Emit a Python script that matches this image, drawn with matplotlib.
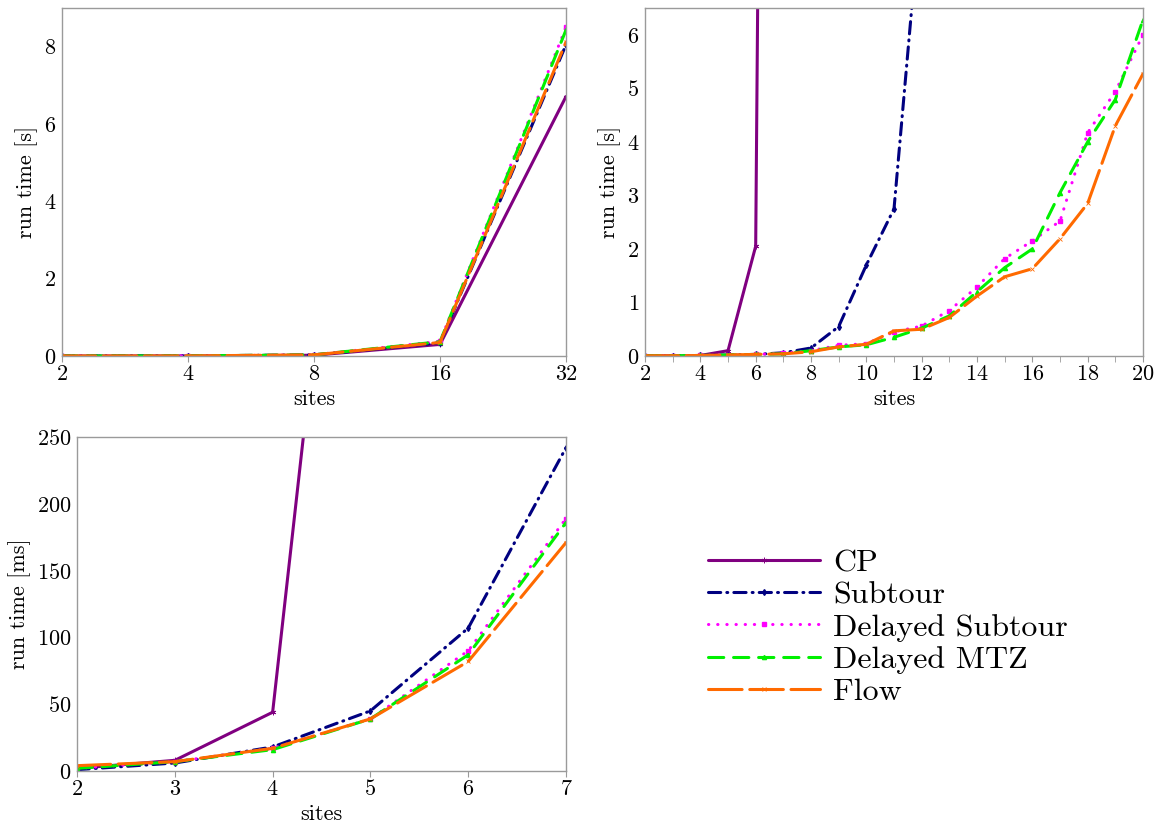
import numpy as np
import matplotlib
matplotlib.use("Agg")
import matplotlib.pyplot as plt

plt.rcParams['font.family'] = 'serif'
plt.rcParams['font.serif'] = ['cmr10']
plt.rcParams['axes.formatter.use_mathtext'] = True
plt.rcParams['mathtext.fontset'] = 'cm'

# ---- data ----
labels = ["CP", "Subtour", "Delayed Subtour", "Delayed MTZ", "Flow"]

# top left: sites on log2 axis, run time in s
sites_a = [2, 4, 8, 16, 32]
cp_a = [0.001, 0.003, 0.02, 0.30, 6.71]
subtour_a = [0.001, 0.003, 0.03, 0.34, 8.05]
dsub_a = [0.001, 0.003, 0.03, 0.38, 8.50]
dmtz_a = [0.001, 0.003, 0.03, 0.37, 8.43]
flow_a = [0.001, 0.003, 0.03, 0.35, 8.12]

# top right: sites 2..20, run time in s
sites_b = list(range(2, 21))
cp_b = [0.005, 0.005, 0.01, 0.10, 2.05, 65.0]
subtour_b = [0.005, 0.005, 0.01, 0.02, 0.03, 0.06, 0.15, 0.55, 1.70, 2.75, 8.6]
dsub_b = [0.005, 0.005, 0.01, 0.02, 0.03, 0.05, 0.10, 0.20, 0.23, 0.45,
          0.56, 0.85, 1.29, 1.82, 2.15, 2.52, 4.17, 4.94, 6.00]
dmtz_b = [0.005, 0.005, 0.01, 0.02, 0.03, 0.04, 0.10, 0.17, 0.21, 0.35,
          0.52, 0.75, 1.20, 1.65, 2.00, 3.05, 4.00, 4.79, 6.28]
flow_b = [0.005, 0.005, 0.01, 0.02, 0.03, 0.04, 0.08, 0.17, 0.22, 0.47,
          0.50, 0.72, 1.12, 1.48, 1.63, 2.19, 2.85, 4.30, 5.27]

# bottom: sites 2..7, run time in ms
sites_c = [2, 3, 4, 5, 6, 7]
cp_c = [2, 8, 44, 700]
subtour_c = [1, 6, 18, 45, 107, 242]
dsub_c = [2, 7, 17, 39, 90, 189]
dmtz_c = [2, 7, 16, 39, 87, 186]
flow_c = [4, 7, 17, 39, 82, 171]

lw = 2.2
styles = [
    dict(color='#800080', linestyle='-', marker=(6, 2, 0), ms=4, mew=0.6),
    dict(color='#000080', dashes=(4.0, 2.0, 0.3, 2.0), marker='d', ms=3),
    dict(color='#FF00FF', dashes=(0.1, 2.9), marker='s', ms=3),
    dict(color='#00F000', dashes=(5.0, 3.2), marker='^', ms=3),
    dict(color='#FF6A00', dashes=(11.0, 2.5), marker='x', ms=3.5, mew=0.6),
]

fig = plt.figure(figsize=(11.57, 8.32), dpi=100)
ax_a = fig.add_axes([0.0536, 0.5721, 0.4356, 0.4183])
ax_b = fig.add_axes([0.5575, 0.5721, 0.4304, 0.4183])
ax_c = fig.add_axes([0.0666, 0.0733, 0.4226, 0.4014])

def draw(ax, xs, series):
    handles = []
    for ys, st in zip(series, styles):
        h, = ax.plot(xs[:len(ys)], ys, lw=lw, dash_capstyle='round',
                     solid_capstyle='round', **st)
        handles.append(h)
    return handles

handles = draw(ax_a, sites_a, [cp_a, subtour_a, dsub_a, dmtz_a, flow_a])
draw(ax_b, sites_b, [cp_b, subtour_b, dsub_b, dmtz_b, flow_b])
draw(ax_c, sites_c, [cp_c, subtour_c, dsub_c, dmtz_c, flow_c])

ax_a.set_xscale('log', base=2)
ax_a.set_xlim(2, 32)
ax_a.set_xticks(sites_a)
ax_a.set_xticklabels([str(s) for s in sites_a])
ax_a.xaxis.set_minor_locator(matplotlib.ticker.NullLocator())
ax_a.set_ylim(0, 9)
ax_a.set_yticks([0, 2, 4, 6, 8])
ax_a.set_ylabel("run time [s]")

ax_b.set_xlim(2, 20)
ax_b.set_xticks(range(2, 21, 2))
ax_b.set_xticks(range(3, 20, 2), minor=True)
ax_b.set_ylim(0, 6.5)
ax_b.set_yticks(range(0, 7))
ax_b.set_ylabel("run time [s]")

ax_c.set_xlim(2, 7)
ax_c.set_xticks(sites_c)
ax_c.set_ylim(0, 250)
ax_c.set_yticks(range(0, 251, 50))
ax_c.set_ylabel("run time [ms]")

for ax in (ax_a, ax_b, ax_c):
    ax.set_xlabel("sites", fontsize=16, labelpad=4)
    ax.yaxis.label.set_size(16)
    for sp in ax.spines.values():
        sp.set_color('#9a9a9a')
        sp.set_linewidth(1.0)
    ax.tick_params(axis='x', which='both', direction='out', length=4,
                   color='#9a9a9a', labelsize=16, pad=2)
    ax.tick_params(axis='y', length=0, labelsize=16, pad=4)

fig.legend(handles, labels, loc='center left', bbox_to_anchor=(0.612, 0.246),
           frameon=False, fontsize=23, handlelength=3.5, numpoints=1,
           labelspacing=0.12, borderpad=0, borderaxespad=0, handletextpad=0.42)

fig.savefig("out.png", dpi=100)
